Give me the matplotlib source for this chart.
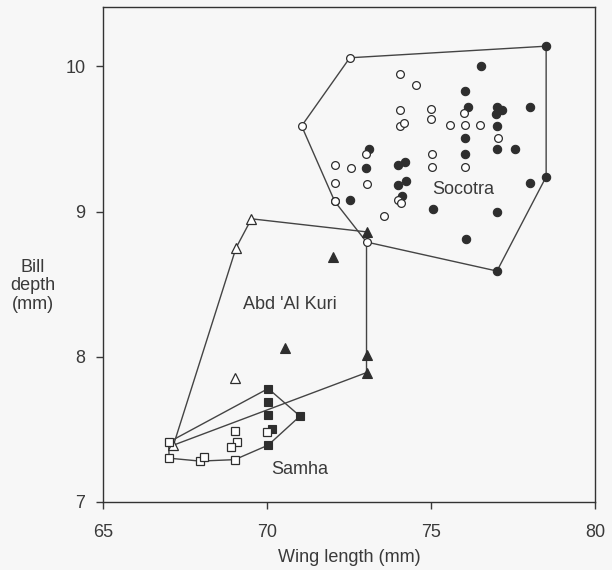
import numpy as np
import matplotlib.pyplot as plt

plt.rcParams['font.family'] = ['Liberation Sans', 'DejaVu Sans']

# Socotra (circles)
soc_open_x = [72.52, 71.05, 72.06, 73.03, 74.04, 74.55, 74.04, 75.01, 75.01, 74.04, 74.16,
              75.57, 76.0, 76.03, 76.5, 77.04, 73.0, 72.06, 72.57, 72.06, 73.03, 75.04,
              75.04, 76.03, 73.99, 74.08, 73.57, 72.06]
soc_open_y = [10.06, 9.59, 9.07, 8.79, 9.95, 9.87, 9.70, 9.71, 9.64, 9.59, 9.61,
              9.60, 9.68, 9.60, 9.60, 9.51, 9.40, 9.32, 9.30, 9.20, 9.19, 9.40,
              9.31, 9.31, 9.08, 9.06, 8.97, 9.07]
soc_fill_x = [78.51, 78.51, 77.01, 76.52, 76.03, 76.13, 77.01, 77.17, 76.97, 78.03, 77.01,
              76.03, 77.01, 77.55, 76.03, 73.1, 73.0, 73.99, 74.19, 73.99, 74.22, 74.1,
              72.52, 75.05, 77.02, 78.03, 76.06]
soc_fill_y = [10.14, 9.24, 8.59, 10.0, 9.83, 9.72, 9.72, 9.70, 9.67, 9.72, 9.59,
              9.51, 9.43, 9.43, 9.40, 9.43, 9.30, 9.32, 9.34, 9.18, 9.21, 9.11,
              9.08, 9.02, 9.0, 9.20, 8.81]
soc_hull_x = [72.52, 78.51, 78.51, 77.01, 73.03, 72.06, 71.05, 72.52]
soc_hull_y = [10.06, 10.14, 9.24, 8.59, 8.79, 9.07, 9.59, 10.06]

# Abd 'Al Kuri (triangles)
abd_open_x = [69.52, 69.05, 69.01, 67.14]
abd_open_y = [8.95, 8.75, 7.85, 7.39]
abd_fill_x = [73.03, 72.01, 70.54, 73.03, 73.03]
abd_fill_y = [8.86, 8.69, 8.06, 8.01, 7.89]
abd_hull_x = [67.14, 69.05, 69.52, 73.03, 73.03, 73.03, 67.14]
abd_hull_y = [7.39, 8.75, 8.95, 8.86, 8.01, 7.89, 7.39]

# Samha (squares)
sam_open_x = [66.99, 67.01, 67.95, 68.07, 69.01, 69.07, 68.91, 69.01, 70.0]
sam_open_y = [7.41, 7.30, 7.28, 7.31, 7.49, 7.41, 7.38, 7.29, 7.48]
sam_fill_x = [70.03, 70.03, 70.03, 70.16, 70.03, 71.0]
sam_fill_y = [7.78, 7.69, 7.60, 7.50, 7.39, 7.59]
sam_hull_x = [66.99, 70.03, 71.0, 70.03, 69.01, 67.95, 67.01, 66.99]
sam_hull_y = [7.41, 7.78, 7.59, 7.39, 7.29, 7.28, 7.30, 7.41]

ink = '#2e2e2e'
txt = '#3a3a3a'
bg = '#f7f7f7'

fig = plt.figure(figsize=(6.12, 5.70), dpi=100, facecolor=bg)
ax = fig.add_axes([0.1688, 0.1198, 0.8034, 0.8679], facecolor=bg)

for hx, hy in [(soc_hull_x, soc_hull_y), (abd_hull_x, abd_hull_y), (sam_hull_x, sam_hull_y)]:
    ax.plot(hx, hy, color='#444444', linewidth=1.0, zorder=2)

ax.plot(soc_fill_x, soc_fill_y, 'o', ms=6, mfc=ink, mec=ink, mew=0.8, ls='none', zorder=3)
ax.plot(soc_open_x, soc_open_y, 'o', ms=5.6, mfc='white', mec=ink, mew=0.9, ls='none', zorder=4)
ax.plot(abd_fill_x, abd_fill_y, '^', ms=7.5, mfc=ink, mec=ink, mew=0.8, ls='none', zorder=3)
ax.plot(abd_open_x, abd_open_y, '^', ms=7.5, mfc='white', mec=ink, mew=0.9, ls='none', zorder=4)
ax.plot(sam_open_x, sam_open_y, 's', ms=5.8, mfc='white', mec=ink, mew=0.9, ls='none', zorder=4)
ax.plot(sam_fill_x, sam_fill_y, 's', ms=5.8, mfc=ink, mec=ink, mew=0.8, ls='none', zorder=3)

ax.text(75.97, 9.15, 'Socotra', fontsize=13, color=txt, ha='center', va='center')
ax.text(70.69, 8.36, "Abd 'Al Kuri", fontsize=13, color=txt, ha='center', va='center')
ax.text(70.98, 7.22, 'Samha', fontsize=13, color=txt, ha='center', va='center')

ax.set_xlim(65, 80)
ax.set_ylim(7, 10.41)
ax.set_xticks([65, 70, 75, 80])
ax.set_yticks([7, 8, 9, 10])
ax.tick_params(direction='out', length=5, width=1, colors=txt, labelsize=13)
ax.tick_params(axis='x', pad=11)
ax.tick_params(axis='y', pad=8)
for s in ax.spines.values():
    s.set_color('#333333')
    s.set_linewidth(1.0)

ax.set_xlabel('Wing length (mm)', fontsize=13, color=txt, labelpad=6)
fig.text(33 / 612, 1 - 286 / 570, 'Bill\ndepth\n(mm)', fontsize=13, color=txt,
         ha='center', va='center', linespacing=1.1)

plt.savefig('out.png', dpi=100, facecolor=bg)
